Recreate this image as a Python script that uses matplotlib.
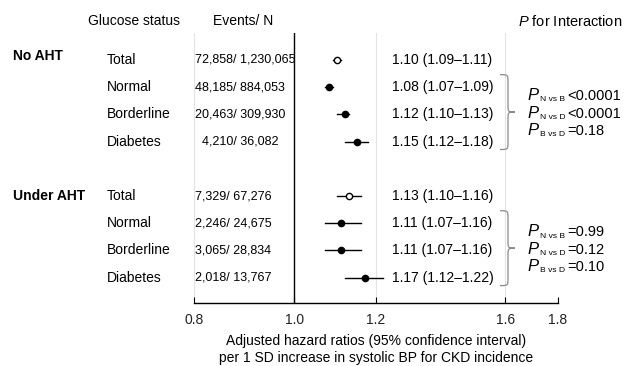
import matplotlib
matplotlib.use("Agg")
import matplotlib.pyplot as plt
from matplotlib.path import Path
from matplotlib.patches import PathPatch
from matplotlib.transforms import blended_transform_factory

plt.rcParams['font.family'] = ['Liberation Sans', 'DejaVu Sans']
plt.rcParams['mathtext.fontset'] = 'custom'
plt.rcParams['mathtext.rm'] = 'Liberation Sans'
plt.rcParams['mathtext.it'] = 'Liberation Sans:italic'
plt.rcParams['mathtext.bf'] = 'Liberation Sans:bold'

# data
groups = ['No AHT', 'Under AHT']
status = ['Total', 'Normal', 'Borderline', 'Diabetes']
events = [['72,858/ 1,230,065', '48,185/ 884,053', '20,463/ 309,930', '4,210/ 36,082'],
          ['7,329/ 67,276', '2,246/ 24,675', '3,065/ 28,834', '2,018/ 13,767']]
hr = [[1.10, 1.08, 1.12, 1.15], [1.13, 1.11, 1.11, 1.17]]
lo = [[1.09, 1.07, 1.10, 1.12], [1.10, 1.07, 1.07, 1.12]]
hi = [[1.11, 1.09, 1.13, 1.18], [1.16, 1.16, 1.16, 1.22]]
p_labels = ['N vs B', 'N vs D', 'B vs D']
p_values = [['<0.0001', '<0.0001', '=0.18'], ['=0.99', '=0.12', '=0.10']]
xticks = [0.8, 1.0, 1.2, 1.6, 1.8]

fig = plt.figure(figsize=(6.25, 3.66), dpi=100)
ax = fig.add_axes([0.3104, 0.1721, 0.5824, 0.7377])
ax.set_xscale('log')
ax.set_xlim(0.8, 1.8)
ax.set_ylim(8.93, -0.99)

tr = blended_transform_factory(fig.transFigure, ax.transData)

for g in [0.8, 1.2, 1.6, 1.8]:
    ax.axvline(g, color='#e3e3e3', lw=0.8, zorder=0)
ax.axvline(1.0, color='black', lw=1, zorder=1)

for gi, grp in enumerate(groups):
    base = gi * 5
    ax.text(13 / 625, base - 0.15 if gi == 0 else base, grp, transform=tr,
            fontsize=10, fontweight='bold', va='center', ha='left')
    for si, st in enumerate(status):
        row = base + si
        ax.text(107 / 625, row, st, transform=tr, fontsize=10, va='center')
        ex = 202 if events[gi][si] == '4,210/ 36,082' else 195
        ax.text(ex / 625, row, events[gi][si], transform=tr, fontsize=9, va='center')
        ax.plot([lo[gi][si], hi[gi][si]], [row, row], color='black', lw=1, zorder=2)
        if si == 0:
            ax.plot(hr[gi][si], row, 'o', ms=4.5, mfc='white', mec='black', mew=1, zorder=3)
        else:
            ax.plot(hr[gi][si], row, 'o', ms=4.5, color='black', zorder=3)
        ax.text(392 / 625, row, '%.2f (%.2f\u2013%.2f)' % (hr[gi][si], lo[gi][si], hi[gi][si]),
                transform=tr, fontsize=10, va='center')

    # brace
    yt, yb = base + 1 - 0.46, base + 3 + 0.29
    ym = (yt + yb) / 2
    xl, xs, xt = 500 / 625, 508 / 625, 515 / 625
    r = 0.3
    verts = [(xl, yt), (xs, yt), (xs, yt), (xs, yt + r),
             (xs, ym - r), (xs, ym), (xs, ym), (xt, ym),
             (xs, ym), (xs, ym), (xs, ym + r),
             (xs, yb - r), (xs, yb), (xs, yb), (xl, yb)]
    codes = [Path.MOVETO, Path.CURVE4, Path.CURVE4, Path.CURVE4,
             Path.LINETO, Path.CURVE4, Path.CURVE4, Path.CURVE4,
             Path.CURVE4, Path.CURVE4, Path.CURVE4,
             Path.LINETO, Path.CURVE4, Path.CURVE4, Path.CURVE4]
    ax.add_patch(PathPatch(Path(verts, codes), transform=tr, fill=False,
                           edgecolor='#8a8a8a', lw=0.9, clip_on=False))

    mid = ym + 0.2
    for pi_, (lab, val) in enumerate(zip(p_labels, p_values[gi])):
        py = mid + (pi_ - 1) * 0.64
        ax.text(527 / 625, py, 'P', transform=tr, fontsize=12, style='italic',
                va='baseline')
        ax.text(540 / 625, py + 0.05, lab, transform=tr, fontsize=6.1, va='baseline')
        ax.text(567 / 625, py, val, transform=tr, fontsize=10.5, va='baseline')

# headers
ax.text(88 / 625, -1.43, 'Glucose status', transform=tr, fontsize=10, va='center')
ax.text(213 / 625, -1.43, 'Events/ N', transform=tr, fontsize=10, va='center')
ax.text(622 / 625, -1.43, r'$P$ for Interaction', transform=tr, fontsize=10.5,
        va='center', ha='right')

for s in ['top', 'right', 'left']:
    ax.spines[s].set_visible(False)
ax.spines['bottom'].set_linewidth(1)
ax.set_yticks([])
ax.set_xticks(xticks)
ax.set_xticklabels(['%.1f' % t for t in xticks])
ax.minorticks_off()
ax.tick_params(axis='x', direction='in', length=4, pad=7, labelsize=10, labelcolor='#222222')
ax.set_xlabel('Adjusted hazard ratios (95% confidence interval)\n'
              'per 1 SD increase in systolic BP for CKD incidence', fontsize=10,
              labelpad=5, linespacing=1.3)

fig.savefig('out.png', dpi=100)
